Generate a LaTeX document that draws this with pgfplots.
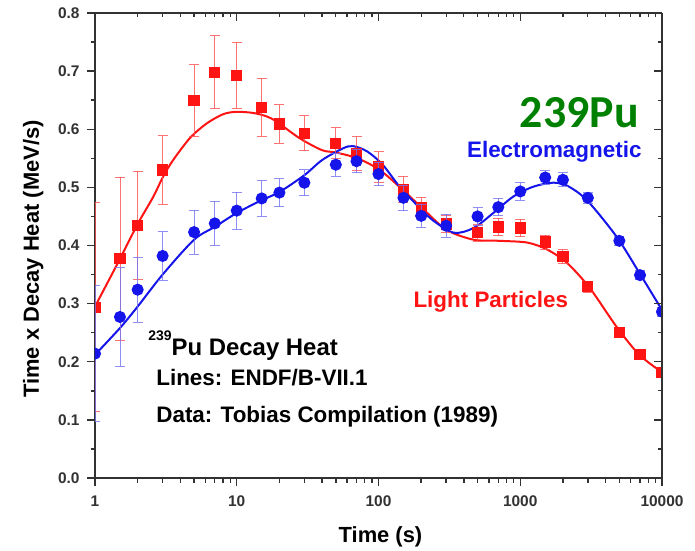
\documentclass[border=0pt]{standalone}
\usepackage{pgfplots}
\usepackage{pgfplotstable}
\pgfplotsset{compat=1.18}
\usepackage{fontspec}
\setmainfont{Liberation Sans}
\newfontfamily\calfont{Carlito}

\definecolor{lpred}{RGB}{255,20,20}
\definecolor{emblue}{RGB}{20,20,235}
\definecolor{pugreen}{RGB}{0,128,0}
\definecolor{axgray}{RGB}{50,50,50}

% Tobias compilation, light particles
\pgfplotstableread{
t v e
1 0.294 0.180
1.5 0.377 0.140
2 0.435 0.093
3 0.530 0.059
5 0.649 0.062
7 0.698 0.063
10 0.692 0.057
15 0.638 0.050
20 0.609 0.033
30 0.593 0.030
50 0.576 0.027
70 0.558 0.029
100 0.535 0.026
150 0.496 0.022
200 0.466 0.016
300 0.437 0.015
500 0.422 0.015
700 0.432 0.015
1000 0.430 0.015
1500 0.406 0.012
2000 0.381 0.012
3000 0.329 0.010
5000 0.251 0.008
7000 0.212 0.008
10000 0.181 0.008
}\redpts

% Tobias compilation, electromagnetic
\pgfplotstableread{
t v e
1 0.214 0.117
1.5 0.277 0.085
2 0.324 0.056
3 0.382 0.042
5 0.423 0.038
7 0.438 0.038
10 0.460 0.032
15 0.481 0.031
20 0.491 0.024
30 0.508 0.022
50 0.539 0.020
70 0.545 0.020
100 0.523 0.020
150 0.482 0.022
200 0.451 0.020
300 0.434 0.020
500 0.450 0.015
700 0.466 0.015
1000 0.493 0.015
1500 0.517 0.012
2000 0.513 0.012
3000 0.482 0.010
5000 0.408 0.008
7000 0.349 0.008
10000 0.286 0.008
}\bluepts

% ENDF/B-VII.1 curves
\pgfplotstableread{
t v
1 0.295
1.5 0.377
2 0.437
2.58 0.484
3.03 0.519
3.56 0.547
4.68 0.585
6.14 0.610
8.04 0.626
10 0.630
13.1 0.628
16.3 0.622
19.1 0.613
28 0.584
40 0.564
50 0.560
71 0.550
102 0.530
148 0.496
204 0.464
302 0.427
468 0.410
724 0.408
1122 0.405
1549 0.393
2138 0.370
3090 0.327
4786 0.260
6918 0.212
10000 0.182
}\redline

\pgfplotstableread{
t v
1 0.212
1.5 0.258
2 0.295
3 0.350
5 0.410
7 0.432
10 0.456
15 0.478
20 0.492
30 0.521
40 0.547
56 0.567
66 0.571
83 0.562
107 0.539
141 0.501
186 0.470
240 0.444
339 0.422
468 0.430
646 0.456
891 0.484
1230 0.501
1700 0.508
2138 0.503
2951 0.478
4786 0.415
6918 0.353
10000 0.289
}\blueline

\begin{document}
\begin{tikzpicture}
\path (0,0) rectangle (695bp,551bp);
\begin{axis}[
    at={(95bp,73bp)}, anchor=south west,
    width=567bp, height=465bp, scale only axis,
    xmode=log, xmin=1, xmax=10000,
    ymin=0, ymax=0.8,
    axis x line*=bottom, axis y line*=left,
    xtick={1,10,100,1000,10000},
    ytick={0,0.1,0.2,0.3,0.4,0.5,0.6,0.7,0.8},
    minor y tick num=1,
    axis line style={axgray, line width=1.6bp, -},
    every tick/.style={draw=axgray, line width=1.4bp},
    major tick length=8bp,
    minor tick length=4.5bp,
    tick align=outside,
    xticklabels={1,10,100,1000,10000},
    yticklabels={0.0,0.1,0.2,0.3,0.4,0.5,0.6,0.7,0.8},
    tick label style={font=\fontsize{15.5}{16}\selectfont\bfseries, text=axgray},
    xticklabel style={yshift=-6bp},
    yticklabel style={xshift=-4bp},
    xlabel={Time (s)},
    ylabel={Time x Decay Heat (MeV/s)},
    label style={font=\fontsize{22}{24}\selectfont\bfseries},
    xlabel style={at={(axis description cs:0.5035,-0.127)}, anchor=center},
    ylabel style={at={(axis description cs:-0.109,0.471)}, anchor=center},
    clip marker paths=true,
    every axis plot/.append style={line width=2bp},
]
\addplot[lpred, smooth] table[x=t, y=v]{\redline};
\addplot[emblue, smooth] table[x=t, y=v]{\blueline};
\addplot[only marks, mark=square*, mark size=4.6bp, lpred,
  error bars/.cd, y dir=both, y explicit,
  error bar style={lpred!75, line width=0.9bp, opacity=0.8},
  error mark options={lpred!75, mark size=5bp, line width=0.9bp, rotate=90}]
  table[x=t, y=v, y error=e]{\redpts};
\addplot[only marks, mark=*, mark size=5bp, emblue,
  error bars/.cd, y dir=both, y explicit,
  error bar style={emblue!60, line width=0.9bp, opacity=0.8},
  error mark options={emblue!60, mark size=5bp, line width=0.9bp, rotate=90}]
  table[x=t, y=v, y error=e]{\bluepts};

\node[anchor=base west, font=\fontsize{24}{26}\selectfont\bfseries]
  at (rel axis cs:0.088,0.2645)
  {\raisebox{15bp}{\fontsize{14}{14}\selectfont 239}Pu Decay Heat};
\node[anchor=base west, font=\fontsize{22.5}{24}\selectfont\bfseries]
  at (rel axis cs:0.102,0.198) {Lines: ENDF/B-VII.1};
\node[anchor=base west, font=\fontsize{22.5}{24}\selectfont\bfseries]
  at (rel axis cs:0.102,0.120) {Data: Tobias Compilation (1989)};
\node[anchor=base east, font=\fontsize{46}{48}\selectfont\calfont\bfseries, text=pugreen]
  at (rel axis cs:0.965,0.753) {239Pu};
\node[anchor=base east, font=\fontsize{22.5}{24}\selectfont\bfseries, text=emblue]
  at (rel axis cs:0.970,0.690) {Electromagnetic};
\node[anchor=base west, font=\fontsize{22.5}{24}\selectfont\bfseries, text=lpred]
  at (rel axis cs:0.5556,0.3656) {Light Particles};
\end{axis}
% top and right frame
\begin{axis}[
    at={(95bp,73bp)}, anchor=south west,
    width=567bp, height=465bp, scale only axis,
    xmode=log, xmin=1, xmax=10000,
    ymin=0, ymax=0.8,
    axis x line*=top, axis y line*=right,
    xtick=\empty, ytick=\empty,
    axis line style={axgray, line width=1.6bp, -},
]
\end{axis}
% tick marks on the frame (axis box: x 95..662 bp, y 73..538 bp)
\foreach \d in {0,1,2,3,4} {
  \pgfmathsetmacro\xx{95+141.75*\d}
  \draw[axgray, line width=1.4bp] (\xx bp,73bp) -- ++(0,-8bp);
  \draw[axgray, line width=1.4bp] (\xx bp,538bp) -- ++(0,-8bp);
}
\foreach \d in {0,1,2,3} {
  \foreach \m in {2,3,4,5,6,7,8,9} {
    \pgfmathsetmacro\xx{95+141.75*(\d+log10(\m))}
    \draw[axgray, line width=1.2bp] (\xx bp,73bp) -- ++(0,-4.5bp);
    \draw[axgray, line width=1.2bp] (\xx bp,538bp) -- ++(0,-4.5bp);
  }
}
\foreach \k in {0,1,2,3,4,5,6,7,8} {
  \pgfmathsetmacro\yy{73+58.125*\k}
  \draw[axgray, line width=1.4bp] (95bp,\yy bp) -- ++(-8bp,0);
  \draw[axgray, line width=1.4bp] (662bp,\yy bp) -- ++(-8bp,0);
}
\foreach \k in {0,1,2,3,4,5,6,7} {
  \pgfmathsetmacro\yy{73+58.125*(\k+0.5)}
  \draw[axgray, line width=1.2bp] (95bp,\yy bp) -- ++(-4.5bp,0);
  \draw[axgray, line width=1.2bp] (662bp,\yy bp) -- ++(-4.5bp,0);
}
\end{tikzpicture}
\end{document}
